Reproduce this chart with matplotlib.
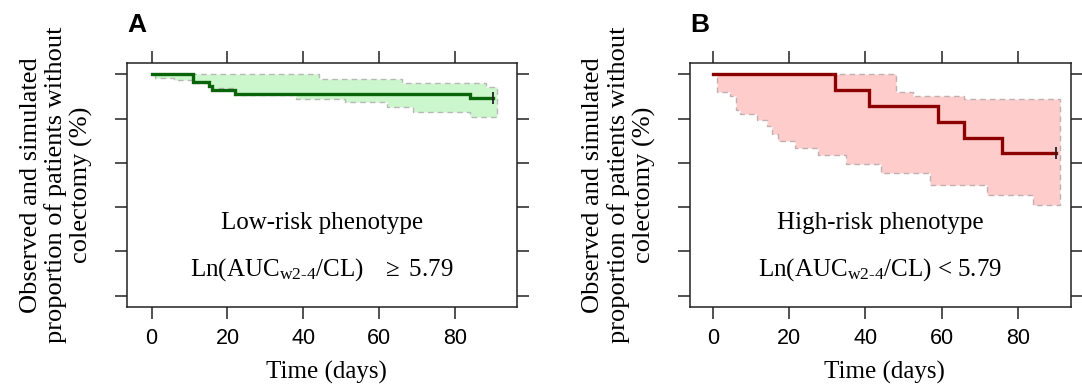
import numpy as np
import matplotlib
matplotlib.use('Agg')
import matplotlib.pyplot as plt

# ---- data (days, % without colectomy) ----
# panel A: low-risk phenotype
a_obs_t = [0, 11, 15, 16, 22, 84, 90]
a_obs_s = [100, 96.6, 94.8, 93.0, 91.2, 89.3, 89.3]
a_up_t = [0, 44, 66, 88, 91]
a_up_s = [100, 98.0, 95.9, 94.3, 94.3]
a_lo_t = [0, 1, 6, 11, 16, 22, 38, 51, 62, 69, 84, 91]
a_lo_s = [100, 98.4, 97.5, 96.0, 94.0, 90.5, 88.8, 87.3, 85.2, 83.0, 80.7, 80.7]

# panel B: high-risk phenotype
b_obs_t = [0, 32, 41, 59, 66, 76, 90]
b_obs_s = [100, 92.86, 85.71, 78.57, 71.43, 64.29, 64.29]
b_up_t = [0, 48, 52.5, 66, 91]
b_up_s = [100, 92.0, 90.3, 89.0, 89.0]
b_lo_t = [0, 1, 4.5, 6, 7, 11.5, 14, 15.5, 17, 21.5, 27.5, 35, 44, 57, 72, 84, 91]
b_lo_s = [100, 92.0, 90.0, 84.0, 82.0, 79.5, 76.5, 73.0, 70.0, 66.5, 63.5, 59.7, 55.2, 50.0, 45.7, 40.8, 40.8]

x_ticks = [0, 20, 40, 60, 80]
y_ticks = [0, 20, 40, 60, 80, 100]

plt.rcParams['font.family'] = 'serif'
plt.rcParams['font.serif'] = ['Liberation Serif', 'DejaVu Serif']
plt.rcParams['mathtext.fontset'] = 'custom'
plt.rcParams['mathtext.rm'] = 'Liberation Serif'
plt.rcParams['mathtext.it'] = 'Liberation Serif:italic'

W, H = 1082, 385


def step_xy(t, s):
    # turn step arrays into polyline vertices (post steps)
    xs, ys = [t[0]], [s[0]]
    for i in range(1, len(t)):
        xs += [t[i], t[i]]
        ys += [s[i - 1], s[i]]
    return xs, ys


def draw_panel(left_px, right_px, xlim, letter, obs_t, obs_s, up_t, up_s, lo_t, lo_s,
               fill, edge, line, txt1, txt2):
    ax = fig.add_axes([left_px / W, 1 - 306.7 / H, (right_px - left_px) / W, (306.7 - 63.3) / H])
    ux, uy = step_xy(up_t, up_s)
    lx, ly = step_xy(lo_t, lo_s)
    px = ux + lx[::-1]
    py = uy + ly[::-1]
    ax.fill(px, py, facecolor=fill, edgecolor=edge, linestyle=(0, (4, 3)), linewidth=1.0, zorder=1)
    ox, oy = step_xy(obs_t, obs_s)
    ax.plot(ox, oy, color=line, linewidth=2.4, solid_joinstyle='miter', zorder=3)
    ax.plot([obs_t[-1]], [obs_s[-1]], marker='|', markersize=9, mew=1.3, color='#222222', zorder=4)

    ax.set_xlim(*xlim)
    ax.set_ylim(-5, 105)
    ax.set_xticks(x_ticks)
    ax.set_yticks(y_ticks)
    ax.set_yticklabels([])
    ax.tick_params(axis='both', direction='out', length=8.4, width=1.1, color='#222222',
                   top=True, right=True, labeltop=False, labelright=False, labelleft=False,
                   labelsize=15.5, pad=7)
    for lab in ax.get_xticklabels():
        lab.set_fontfamily('Liberation Sans')
    for sp in ax.spines.values():
        sp.set_linewidth(1.1)
        sp.set_color('#222222')

    cx = (left_px + right_px) / 2 / W
    ax.text(0.5, 0.343, txt1, transform=ax.transAxes, ha='center', va='center', fontsize=18)
    ax.text(0.5, 0.151, txt2, transform=ax.transAxes, ha='center', va='center', fontsize=18)
    fig.text(cx + 4 / W, 1 - 372 / H, 'Time (days)', ha='center', va='center', fontsize=18)
    fig.text((left_px - 71) / W, 1 - 185 / H,
             'Observed and simulated\nproportion of patients without\ncolectomy (%)',
             rotation=90, ha='center', va='center', multialignment='center',
             fontsize=19, linespacing=1.15)
    fig.text((left_px + 0) / W, 1 - 25 / H, letter, ha='left', va='center',
             fontsize=19, fontweight='bold', family='Liberation Sans')
    return ax


fig = plt.figure(figsize=(W / 100, H / 100), dpi=100)

draw_panel(127.3, 516.7, (-6.4, 96.2), 'A', a_obs_t, a_obs_s, a_up_t, a_up_s, a_lo_t, a_lo_s,
           '#ccf7cc', '#b8b8b8', '#0a640a',
           'Low-risk phenotype', r'Ln(AUC$_{\mathrm{w2\text{-}4}}$/CL)   $\geq$ 5.79')
draw_panel(690, 1071, (-6.1, 94.0), 'B', b_obs_t, b_obs_s, b_up_t, b_up_s, b_lo_t, b_lo_s,
           '#ffcccc', '#c0b0b0', '#8b0000',
           'High-risk phenotype', r'Ln(AUC$_{\mathrm{w2\text{-}4}}$/CL) < 5.79')

fig.savefig('out.png', dpi=100)
